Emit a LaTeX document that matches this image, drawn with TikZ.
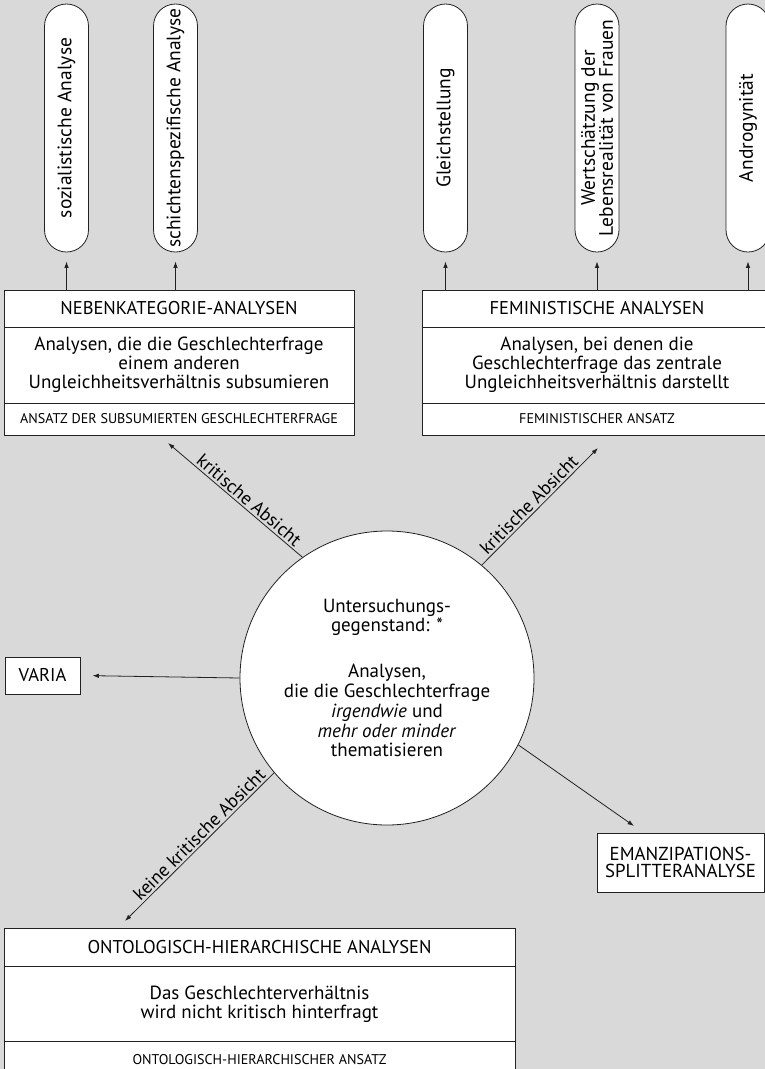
\documentclass[tikz,border=0pt]{standalone}
\usepackage{fontspec}
\setmainfont{PT Sans}
\usetikzlibrary{arrows.meta}
\definecolor{bg}{HTML}{D9D9D9}
\definecolor{ln}{HTML}{222222}
\begin{document}
\begin{tikzpicture}[x=1pt,y=-1pt,
  box/.style={draw=ln, line width=0.9pt, fill=white, rectangle, inner sep=0pt, align=center, font=\fontsize{19}{19}\selectfont},
  hdr/.style={font=\fontsize{18.5}{19}\selectfont},
  small/.style={font=\fontsize{14.1}{15}\selectfont},
  pill/.style={draw=ln, line width=0.8pt, fill=white, rounded corners=22pt, minimum width=248pt, minimum height=44pt, rotate=90, inner sep=0pt, align=center, font=\fontsize{19.5}{18}\selectfont},
  arr/.style={draw=ln, line width=0.8pt, -{Latex[length=6.5pt,width=4.5pt]}},
  lab/.style={font=\fontsize{18.5}{19}\selectfont, sloped, above, inner sep=2pt}
]
\fill[bg] (0,0) rectangle (765,1069);
\useasboundingbox (0,0) rectangle (765,1069);
\clip (0,0) rectangle (765,1069);

% pills
\node[pill] (p1) at (66.5,128) {sozialistische Analyse};
\node[pill] (p2) at (175.5,128) {schichtenspezifische Analyse};
\node[pill] (p3) at (445.5,128) {Gleichstellung};
\node[pill] (p4) at (597,128) {Wertschätzung der\\Lebensrealität von Frauen};
\node[pill] (p5) at (748,128) {Androgynität};

% Nebenkategorie
\node[box, hdr, minimum width=350pt, minimum height=37pt] (nh) at (179,308.5) {NEBENKATEGORIE-ANALYSEN};
\node[box, minimum width=350pt, minimum height=76pt] (nb) at (179,365) {Analysen, die die Geschlechterfrage\\einem anderen\\Ungleichheitsverhältnis subsumieren};
\node[box, small, minimum width=350pt, minimum height=32pt] (nf) at (179,419) {ANSATZ DER SUBSUMIERTEN GESCHLECHTERFRAGE};

% Feministische
\node[box, hdr, minimum width=350pt, minimum height=37pt] (fh) at (597,308.5) {FEMINISTISCHE ANALYSEN};
\node[box, minimum width=350pt, minimum height=76pt] (fb) at (597,365) {Analysen, bei denen die\\Geschlechterfrage das zentrale\\Ungleichheitsverhältnis darstellt};
\node[box, small, minimum width=350pt, minimum height=32pt] (ff) at (597,419) {FEMINISTISCHER ANSATZ};

% Ontologisch
\node[box, hdr, minimum width=511pt, minimum height=38pt] (oh) at (259.5,947) {ONTOLOGISCH-HIERARCHISCHE ANALYSEN};
\node[box, minimum width=511pt, minimum height=75pt] (ob) at (259.5,1004) {Das Geschlechterverhältnis\\wird nicht kritisch hinterfragt};
\node[box, small, minimum width=511pt, minimum height=38pt] (of) at (259.5,1060) {ONTOLOGISCH-HIERARCHISCHER ANSATZ};

% center circle
\node[circle, draw=ln, fill=white, line width=0.8pt, minimum size=294pt, inner sep=0pt, align=center, font=\fontsize{19}{19.8}\selectfont] (c) at (387,678)
  {Untersuchungs-\\gegenstand: *\\[26pt]Analysen,\\die die Geschlechterfrage\\\textit{irgendwie} und\\\textit{mehr oder minder}\\thematisieren};

% side boxes
\node[box, hdr, minimum width=75pt, minimum height=37pt] (va) at (42.5,675.5) {VARIA};
\node[box, minimum width=167pt, minimum height=59pt, font=\fontsize{18.8}{17.5}\selectfont] (em) at (680.5,862.5) {EMANZIPATIONS-\\SPLITTERANALYSE};

% arrows to pills
\draw[arr, shorten >=9pt] (nh.north -| p1.center) -- (p1.west);
\draw[arr, shorten >=9pt] (nh.north -| p2.center) -- (p2.west);
\draw[arr, shorten >=9pt] (fh.north -| p3.center) -- (p3.west);
\draw[arr, shorten >=9pt] (fh.north -| p4.center) -- (p4.west);
\draw[arr, shorten >=9pt] (fh.north -| p5.center) -- (p5.west);

% arrows from circle
\coordinate (t1) at (168,443);
\coordinate (t2) at (598,448);
\coordinate (t3) at (125,921);
\coordinate (t4) at (634,826);
\draw[arr] (c.125) -- node[lab, pos=0.44] {kritische Absicht} (t1);
\draw[arr] (c.50) -- node[lab, pos=0.46] {kritische Absicht} (t2);
\draw[arr] (c.220) -- node[lab, pos=0.46] {keine kritische Absicht} (t3);
\draw[arr] (c.-27) -- (t4);
\draw[arr, shorten >=12pt] (c.west) -- (va.east);
\end{tikzpicture}
\end{document}
